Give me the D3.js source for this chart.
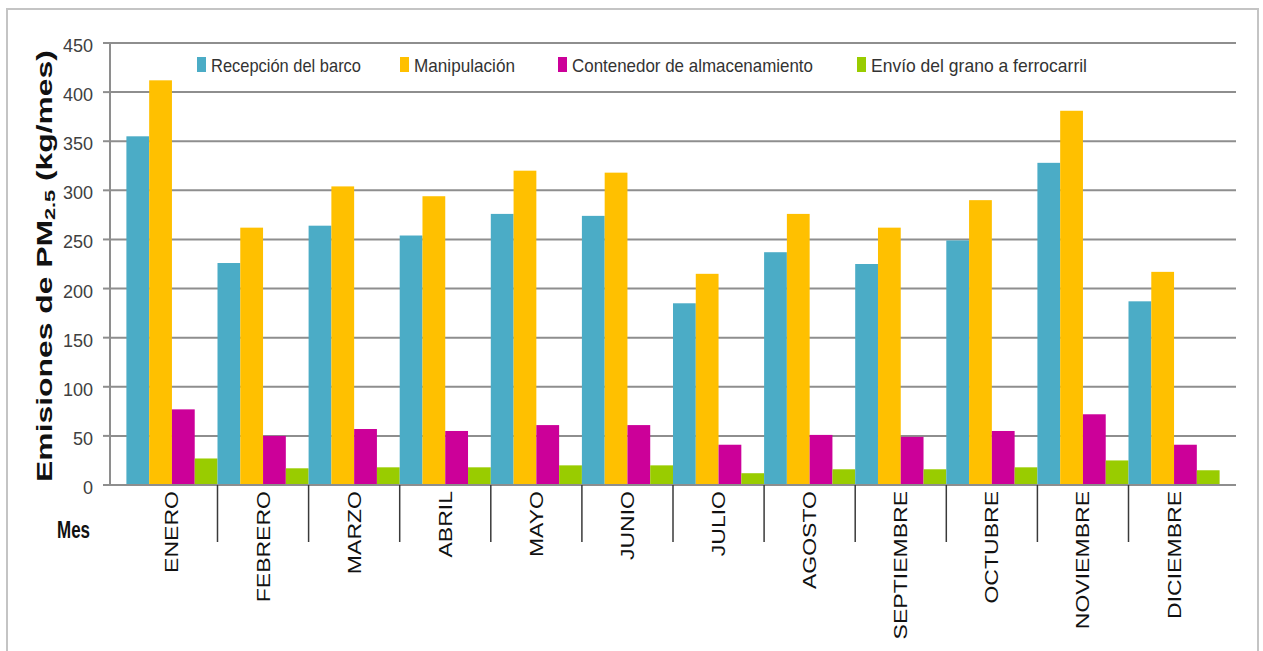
<!DOCTYPE html>
<html>
<head>
<meta charset="utf-8">
<script src="https://cdn.jsdelivr.net/npm/d3@7/dist/d3.min.js"></script>
<style>
  body { margin: 0; background: #fff; }
  text { font-family: "Liberation Sans", Arial, sans-serif; }
</style>
</head>
<body>
<svg id="chart" width="1263" height="651"></svg>
<script>
// --- Datos ---
const meses = ["ENERO", "FEBRERO", "MARZO", "ABRIL", "MAYO", "JUNIO", "JULIO",
  "AGOSTO", "SEPTIEMBRE", "OCTUBRE", "NOVIEMBRE", "DICIEMBRE"];
const series = ["Recepción del barco", "Manipulación",
  "Contenedor de almacenamiento", "Envío del grano a ferrocarril"];
const recepcion    = [355, 226, 264, 254, 276, 274, 185, 237, 225, 249, 328, 187];
const manipulacion = [412, 262, 304, 294, 320, 318, 215, 276, 262, 290, 381, 217];
const contenedor   = [77, 50, 57, 55, 61, 61, 41, 51, 49, 55, 72, 41];
const envio        = [27, 17, 18, 18, 20, 20, 12, 16, 16, 18, 25, 15];
const yTicks = [0, 50, 100, 150, 200, 250, 300, 350, 400, 450];
const colores = ["#4bacc6", "#ffc000", "#cc0099", "#99cc00"];

const valores = [recepcion, manipulacion, contenedor, envio];

// --- Escalas ---
const svg = d3.select("#chart");
const mLeft = 110, mRight = 1236, mTop = 43, mBottom = 485;

const x0 = d3.scaleBand().domain(meses).range([mLeft, mRight])
  .paddingInner(0).paddingOuter(0.18);
const x1 = d3.scaleBand().domain(d3.range(series.length)).range([0, x0.bandwidth()]);
const y = d3.scaleLinear().domain([0, 450]).range([mBottom, mTop]);

// marco exterior
svg.append("rect")
  .attr("x", 7).attr("y", 9).attr("width", 1251).attr("height", 680)
  .attr("fill", "none").attr("stroke", "#c4c4c4").attr("stroke-width", 2);

// líneas de cuadrícula
svg.append("g").selectAll("line")
  .data(yTicks.filter(d => d > 0))
  .join("line")
  .attr("x1", mLeft).attr("x2", mRight)
  .attr("y1", d => y(d)).attr("y2", d => y(d))
  .attr("stroke", "#8e8e8e").attr("stroke-width", 2);

// eje y
const gy = svg.append("g");
gy.append("line").attr("x1", mLeft).attr("x2", mLeft).attr("y1", mTop).attr("y2", mBottom)
  .attr("stroke", "#8e8e8e").attr("stroke-width", 2);
gy.selectAll("line.tick").data(yTicks).join("line").attr("class", "tick")
  .attr("x1", mLeft - 7).attr("x2", mLeft)
  .attr("y1", d => y(d)).attr("y2", d => y(d))
  .attr("stroke", "#8e8e8e").attr("stroke-width", 2);
gy.selectAll("text").data(yTicks).join("text")
  .attr("x", 93).attr("y", d => y(d) + 3)
  .attr("text-anchor", "end").attr("dominant-baseline", "central")
  .attr("font-size", 18).attr("fill", "#404040")
  .text(d => d);

// barras
svg.append("g").selectAll("g")
  .data(meses)
  .join("g")
  .attr("transform", d => `translate(${x0(d)},0)`)
  .selectAll("rect")
  .data((d, i) => valores.map((s, k) => ({ k, v: s[i] })))
  .join("rect")
  .attr("x", d => x1(d.k))
  .attr("width", x1.bandwidth())
  .attr("y", d => y(d.v))
  .attr("height", d => y(0) - y(d.v))
  .attr("fill", d => colores[d.k]);

// eje x
svg.append("line").attr("x1", mLeft).attr("x2", mRight).attr("y1", mBottom).attr("y2", mBottom)
  .attr("stroke", "#8e8e8e").attr("stroke-width", 2);
svg.append("g").selectAll("line")
  .data(meses.slice(1))
  .join("line")
  .attr("x1", d => x0(d)).attr("x2", d => x0(d))
  .attr("y1", mBottom).attr("y2", 542)
  .attr("stroke", "#3a3a3a").attr("stroke-width", 1.5);

svg.append("g").selectAll("text")
  .data(meses)
  .join("text")
  .attr("transform", d => `translate(${x0(d) + x0.bandwidth() / 2},491) rotate(-90) scale(1.28,1)`)
  .attr("text-anchor", "end").attr("dominant-baseline", "central")
  .attr("font-size", 18).attr("fill", "#111")
  .text(d => d);

svg.append("text")
  .attr("x", 57).attr("y", 538)
  .attr("font-size", 23).attr("font-weight", "bold").attr("fill", "#111")
  .attr("textLength", 33).attr("lengthAdjust", "spacingAndGlyphs")
  .text("Mes");

// título del eje y
const titulo = svg.append("text")
  .attr("text-anchor", "middle").attr("dominant-baseline", "central")
  .attr("font-size", 22).attr("font-weight", "bold").attr("fill", "#111");
titulo.append("tspan").text("Emisiones de PM");
titulo.append("tspan").attr("font-size", 15).attr("dy", 5).text("2.5");
titulo.append("tspan").attr("dy", -5).text(" (kg/mes)");
const largo = titulo.node().getComputedTextLength();
titulo.attr("transform", `translate(44,266) rotate(-90) scale(${432 / largo},1)`);

// leyenda
const legX = [197, 400, 558, 857];
const legW = [150, 101, 241, 216];
const leg = svg.append("g").selectAll("g")
  .data(series)
  .join("g")
  .attr("transform", (d, i) => `translate(${legX[i]},0)`);
leg.append("rect")
  .attr("x", 0).attr("y", 57).attr("width", 9).attr("height", 15)
  .attr("fill", (d, i) => colores[i]);
leg.append("text")
  .attr("x", 14).attr("y", 72)
  .attr("font-size", 19).attr("fill", "#333")
  .attr("textLength", (d, i) => legW[i]).attr("lengthAdjust", "spacingAndGlyphs")
  .text(d => d);
</script>
</body>
</html>
